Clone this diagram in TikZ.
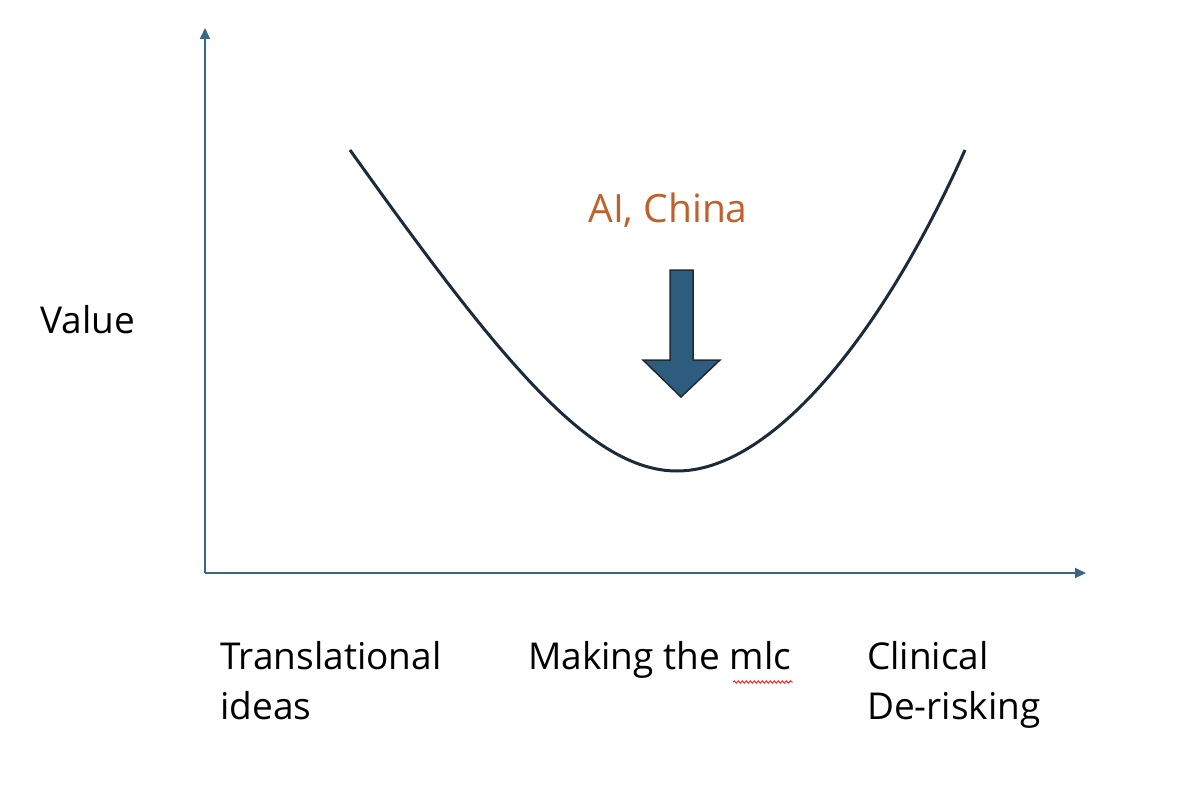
\documentclass[tikz,border=0pt]{standalone}
\usepackage{fontspec}
\setmainfont{Open Sans}
\usetikzlibrary{arrows.meta,decorations.pathmorphing}
\definecolor{axis}{HTML}{3A6788}
\definecolor{curve}{HTML}{1C2B3A}
\definecolor{arrowfill}{HTML}{2E5C7E}
\definecolor{orangetxt}{HTML}{C0602A}
\tikzset{lbl/.style={font=\fontsize{37}{50}\selectfont, inner sep=0pt},
  axisline/.style={draw=axis, line width=2pt, -{Triangle[length=11pt,width=10pt]}}}
\begin{document}
\begin{tikzpicture}[x=1pt,y=-1pt]
\useasboundingbox (0,0) rectangle (1200,789);
\coordinate (o) at (205,573);
\coordinate (ytop) at (205,28);
\coordinate (xend) at (1086,573);
\draw[axisline] (o) -- (ytop);
\draw[axisline] (o) -- (xend);
\coordinate (cl) at (350,150);
\coordinate (cm) at (677,471);
\coordinate (cr) at (965,150);
\draw[curve, line width=3pt] (cl) .. controls (500,360) and (590,471) .. (cm) .. controls (770,471) and (880,340) .. (cr);
\draw[draw=curve, fill=arrowfill, line width=1.5pt, line join=miter]
 (670,270) -- (693,270) -- (693,360) -- (720,360) -- (681,397) -- (643,360) -- (670,360) -- cycle;
\node[lbl, font=\fontsize{39}{50}\selectfont, text=orangetxt] (ai) at (668,210) {AI, China};
\node[lbl, anchor=west] (val) at (40,320) {Value};
\node[lbl, anchor=north west, align=left] (t1) at (220,641) {Translational\\ideas};
\node[lbl, anchor=north west] (t2) at (528,641) {Making the mlc};
\node[lbl, anchor=north west, align=left] (t3) at (867,641) {Clinical\\De-risking};
\draw[red, line width=0.8pt, decorate, decoration={snake, amplitude=1.2pt, segment length=4pt}] (733,682) -- (793,682);
\end{tikzpicture}
\end{document}
